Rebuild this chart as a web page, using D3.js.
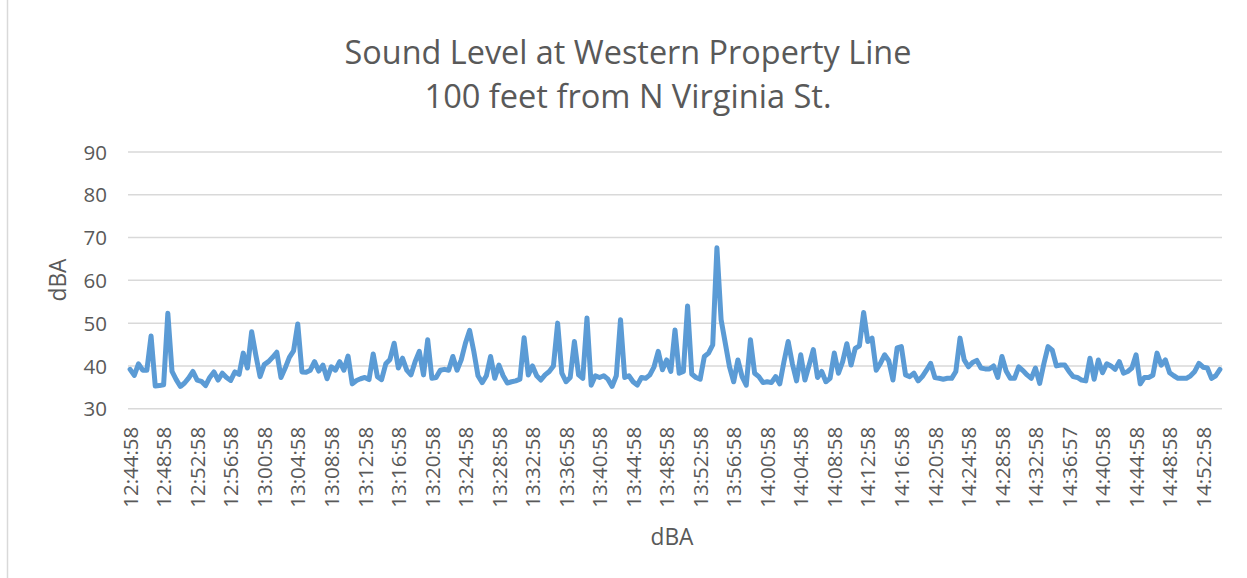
<!DOCTYPE html>
<html>
<head>
<meta charset="utf-8">
<script src="https://cdn.jsdelivr.net/npm/d3@7"></script>
<style>
  html, body { margin: 0; padding: 0; background: #fff; }
  svg { display: block; }
  text { font-family: "Open Sans", "Liberation Sans", sans-serif; fill: #595959; }
</style>
</head>
<body>
<svg id="chart" width="1247" height="578"></svg>
<script>
// ---- data ----
const titleLines = ["Sound Level at Western Property Line", "100 feet from N Virginia St."];
const yAxisTitle = "dBA";
const xAxisTitle = "dBA";
const yTicks = [30, 40, 50, 60, 70, 80, 90];
const xTickLabels = [
  "12:44:58","12:48:58","12:52:58","12:56:58","13:00:58","13:04:58","13:08:58","13:12:58",
  "13:16:58","13:20:58","13:24:58","13:28:58","13:32:58","13:36:58","13:40:58","13:44:58",
  "13:48:58","13:52:58","13:56:58","14:00:58","14:04:58","14:08:58","14:12:58","14:16:58",
  "14:20:58","14:24:58","14:28:58","14:32:58","14:36:57","14:40:58","14:44:58","14:48:58",
  "14:52:58"
];
const labelEvery = 8;
const soundLevels = [
  39.2,37.8,40.5,39,39,47,35.3,35.4,35.6,52.3,
  38.7,36.8,35.2,36,37.2,38.7,36.7,36.4,35.4,37.3,
  38.6,36.7,38.3,37.3,36.6,38.6,38,43,39.5,48,
  42.5,37.5,40.3,41,42,43.2,37.3,39.5,42,43.5,
  49.8,38.6,38.5,39,41,38.8,40.2,37,39.8,39,
  41,39,42.3,35.8,36.6,37,37.3,36.8,42.8,37.5,
  36.8,40.5,41.5,45.3,39.5,41.8,39,37.9,41,43.4,
  37.9,46.1,37.1,37.3,39,39.2,39,42.2,39,41.4,
  45.3,48.3,43.4,37.7,36.1,37.7,42.2,37.1,40.2,37.7,
  36,36.3,36.5,36.9,46.6,37.9,40,37.7,36.7,37.9,
  38.7,40,50,38.3,36.3,37.3,45.7,37.9,37.1,51.2,
  35.5,37.7,37.3,37.7,36.9,35.2,37.7,50.8,37.3,37.7,
  36.3,35.5,37.3,37.1,37.9,39.8,43.4,39.1,41.4,38.7,
  48.4,38.3,38.7,54,38.1,37.3,36.9,42.2,43,44.9,
  67.6,50.8,45.3,39.8,36.3,41.4,37.5,35.5,46.1,38.3,
  37.5,36.1,36.3,36.1,37.5,35.8,41,45.7,40.5,36.5,
  42.6,36.7,40.2,43.8,37.3,38.7,36.3,37.1,43,38.3,
  41,45.2,40.2,44.1,44.7,52.5,45.7,46.5,39,40.6,
  42.6,41.2,36.7,44.2,44.5,37.9,37.5,38.3,36.5,37.5,
  39,40.6,37.3,37.1,36.9,37.1,37.1,38.7,46.5,41.4,
  39.8,40.8,41.3,39.5,39.3,39.3,40,37.3,42.2,38.8,
  37.1,37.1,39.8,38.9,37.9,37.1,39.5,35.9,40.5,44.5,
  43.7,40,40.2,40.2,38.7,37.5,37.3,36.7,36.5,41.8,
  36.9,41.4,38.4,40.5,40,39.2,41,38.3,38.7,39.5,
  42.6,35.8,37.3,37.3,37.8,43,40.2,41.4,38.4,37.7,
  37.1,37.1,37.1,37.7,38.7,40.6,39.7,39.5,37.1,37.7,
  39.2
];

// ---- layout ----
const W = 1247, H = 578;
const plot = { left: 128, right: 1222, top: 152, bottom: 408.7 };
const svg = d3.select("#chart");

// chart area border (left edge visible in reference)
svg.append("line").attr("x1", 7.5).attr("x2", 7.5).attr("y1", 0).attr("y2", H)
  .attr("stroke", "#d9d9d9").attr("stroke-width", 1.5);

const idx = d3.range(soundLevels.length);
const x = d3.scalePoint().domain(idx).range([plot.left, plot.right]).padding(0.5);
const y = d3.scaleLinear().domain([30, 90]).range([plot.bottom, plot.top]);

function fitText(sel, targetWidth) {
  const node = sel.node();
  const fs = parseFloat(sel.attr("font-size"));
  const w = node.getComputedTextLength();
  if (w > 0) sel.attr("font-size", (fs * targetWidth / w).toFixed(2));
}

// gridlines
svg.append("g").selectAll("line").data(yTicks).join("line")
  .attr("x1", plot.left).attr("x2", plot.right)
  .attr("y1", d => y(d)).attr("y2", d => y(d))
  .attr("stroke", "#d9d9d9").attr("stroke-width", 1.5);

// y axis
const yAxis = svg.append("g").attr("transform", `translate(${plot.left - 21},0)`)
  .call(d3.axisLeft(y).tickValues(yTicks).tickSize(0).tickPadding(0).tickFormat(d3.format("d")));
yAxis.select(".domain").remove();
yAxis.selectAll("text").attr("font-size", 20.5).attr("font-family", "Open Sans")
  .attr("fill", "#595959").attr("dy", "0.35em");

// x axis
const tickIdx = xTickLabels.map((_, k) => k * labelEvery);
const xAxis = svg.append("g").attr("transform", `translate(0,${plot.bottom})`)
  .call(d3.axisBottom(x).tickValues(tickIdx).tickSize(0).tickFormat(i => xTickLabels[i / labelEvery]));
xAxis.select(".domain").remove();
xAxis.selectAll("text")
  .attr("font-size", 20.5).attr("font-family", "Open Sans").attr("fill", "#595959")
  .attr("text-anchor", "end")
  .attr("transform", "rotate(-90)")
  .attr("x", -18).attr("y", 0).attr("dy", "0.35em");

// series line
svg.append("path").datum(soundLevels)
  .attr("fill", "none").attr("stroke", "#5b9bd5").attr("stroke-width", 5)
  .attr("stroke-linejoin", "round").attr("stroke-linecap", "round")
  .attr("d", d3.line().x((d, i) => x(i)).y(d => y(d)));

// titles
const t1 = svg.append("text").attr("x", 628).attr("y", 64).attr("text-anchor", "middle")
  .attr("font-size", 30).text(titleLines[0]);
fitText(t1, 567);
const t2 = svg.append("text").attr("x", 628).attr("y", 108).attr("text-anchor", "middle")
  .attr("font-size", 30).text(titleLines[1]);
fitText(t2, 407);

// axis titles
const ya = svg.append("text").attr("transform", "translate(66,280) rotate(-90)")
  .attr("text-anchor", "middle").attr("font-size", 22).text(yAxisTitle);
fitText(ya, 43);
const xa = svg.append("text").attr("x", 672).attr("y", 545).attr("text-anchor", "middle")
  .attr("font-size", 22).text(xAxisTitle);
fitText(xa, 43);
</script>
</body>
</html>
